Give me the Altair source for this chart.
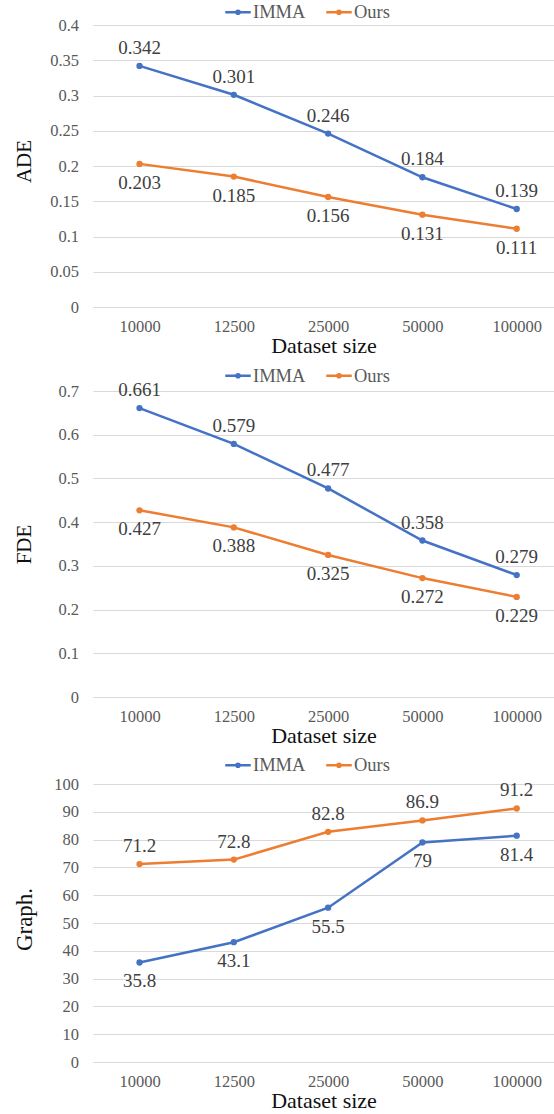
import altair as alt
import pandas as pd

sizes = ["10000", "12500", "25000", "50000", "100000"]
series = ["IMMA", "Ours"]
colors = ["#4472C4", "#ED7D31"]

ade_imma = [0.342, 0.301, 0.246, 0.184, 0.139]
ade_ours = [0.203, 0.185, 0.156, 0.131, 0.111]
fde_imma = [0.661, 0.579, 0.477, 0.358, 0.279]
fde_ours = [0.427, 0.388, 0.325, 0.272, 0.229]
graph_imma = [35.8, 43.1, 55.5, 79, 81.4]
graph_ours = [71.2, 72.8, 82.8, 86.9, 91.2]

ade_ticks = [0, 0.05, 0.1, 0.15, 0.2, 0.25, 0.3, 0.35, 0.4]
fde_ticks = [0, 0.1, 0.2, 0.3, 0.4, 0.5, 0.6, 0.7]
graph_ticks = [0, 10, 20, 30, 40, 50, 60, 70, 80, 90, 100]

FONT = "Liberation Serif"
LEGEND_PATH = "M-1.22,0H1.22M0.15,0A0.15,0.15,0,1,1,-0.15,0A0.15,0.15,0,1,1,0.15,0"


def make_df(imma, ours):
    rows = []
    for s, vals in zip(series, [imma, ours]):
        for c, v in zip(sizes, vals):
            rows.append({"size": c, "series": s, "value": v, "label": f"{v:g}"})
    return pd.DataFrame(rows)


def panel(imma, ours, ytitle, ticks, height, legend_y, title_y, above, below, ytitle_size=21):
    df = make_df(imma, ours)
    base = alt.Chart(df).encode(
        x=alt.X(
            "size:N",
            sort=sizes,
            scale=alt.Scale(type="point", padding=0.4444, align=0.555),
            axis=alt.Axis(
                title="Dataset size", labelAngle=0, domain=False, ticks=False,
                tickSize=0, labelPadding=11, titlePadding=1, grid=False,
                titleFontSize=22, titleFont=FONT, titleFontWeight="normal",
                titleColor="#111111", labelFont=FONT, labelFontSize=16.5,
                labelColor="#595959",
            ),
        ),
        y=alt.Y(
            "value:Q",
            scale=alt.Scale(domain=[ticks[0], ticks[-1]], nice=False, zero=True),
            axis=alt.Axis(
                title=ytitle, values=ticks, format=".6~g", grid=True, domain=False,
                ticks=False, tickSize=0, labelPadding=14.5,
                titleX=-69, titleY=title_y, titleAngle=270,
                titleAlign="center", titleBaseline="middle",
                titleFontSize=ytitle_size, titleFont=FONT, titleFontWeight="normal",
                titleColor="#111111", labelFont=FONT, labelFontSize=16.5,
                labelColor="#595959", gridColor="#D9D9D9", gridWidth=1,
            ),
        ),
    )
    color_scale = alt.Scale(domain=series, range=colors)
    lines = base.mark_line(strokeWidth=2.5).encode(
        color=alt.Color(
            "series:N", scale=color_scale,
            legend=alt.Legend(
                title=None, orient="none", legendX=133, legendY=legend_y,
                direction="horizontal", symbolType=LEGEND_PATH, symbolSize=437,
                symbolStrokeWidth=2.5, labelFontSize=18.5, labelColor="#595959",
                labelFont=FONT, labelOffset=3, columnPadding=15, padding=0,
                symbolOpacity=1,
            ),
        )
    )
    points = base.mark_point(filled=True, size=40, opacity=1).encode(
        color=alt.Color("series:N", scale=color_scale, legend=None)
    )
    above_t = base.mark_text(dy=-18, fontSize=19, color="#404040", baseline="middle", font=FONT).encode(
        text="label:N"
    ).transform_filter(alt.datum.series == above)
    below_t = base.mark_text(dy=19, fontSize=19, color="#404040", baseline="middle", font=FONT).encode(
        text="label:N"
    ).transform_filter(alt.datum.series == below)
    return alt.layer(lines, points, above_t, below_t).properties(width=461, height=height)


p1 = panel(ade_imma, ade_ours, "ADE", ade_ticks, 282, -25, 136, "IMMA", "Ours")
p2 = panel(fde_imma, fde_ours, "FDE", fde_ticks, 306, -27.5, 153, "IMMA", "Ours")
p3 = panel(graph_imma, graph_ours, "Graph.", graph_ticks, 278, -31, 135, "Ours", "IMMA", 23)

chart = alt.vconcat(p1, p2, p3, spacing=6).resolve_scale(
    color="independent"
).resolve_legend(color="independent").properties(
    padding={"left": 13, "top": 0, "right": 0, "bottom": 0},
    background="white",
).configure(font=FONT).configure_view(stroke=None).configure_axis(
    labelFont=FONT, titleFont=FONT, titleFontWeight="normal",
).configure_legend(labelFont=FONT)

chart.save("out.html", embed_options={"renderer": "svg", "actions": False})
